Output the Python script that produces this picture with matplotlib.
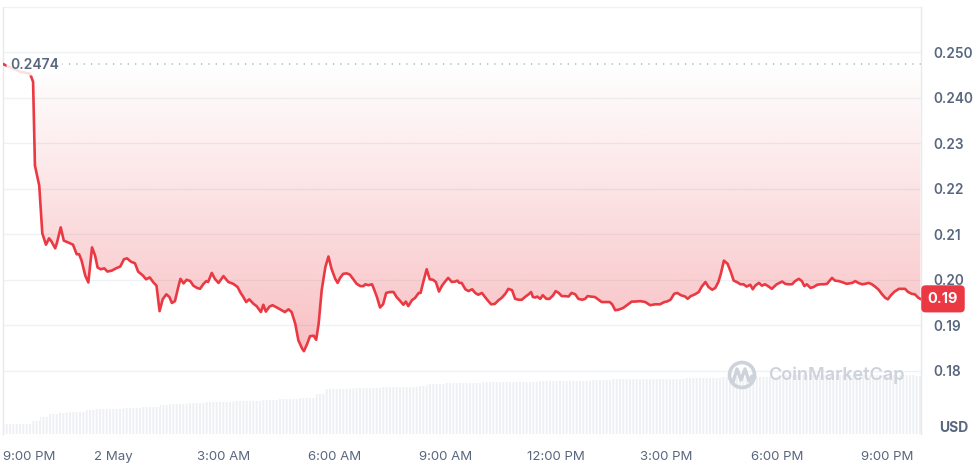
import numpy as np
import matplotlib
matplotlib.use("Agg")
import matplotlib.pyplot as plt
from matplotlib.patches import Circle

# minutes after 9:00 PM (1 May) and price in USD
minutes = [
    0, 28, 44, 49, 52, 59, 64, 70, 75, 79,
    85, 88, 94, 99, 106, 114, 120, 124, 128, 134,
    139, 145, 150, 154, 159, 165, 170, 177, 184, 191,
    197, 202, 208, 215, 220, 228, 233, 239, 245, 250,
    255, 260, 266, 271, 275, 280, 286, 289, 294, 299,
    305, 310, 316, 321, 326, 331, 334, 340, 345, 351,
    359, 367, 375, 382, 387, 391, 396, 401, 408, 413,
    420, 424, 428, 434, 439, 446, 454, 459, 465, 470,
    476, 481, 487, 490, 495, 500, 506, 510, 514, 519,
    525, 530, 535, 541, 545, 549, 554, 560, 565, 571,
    576, 582, 587, 590, 595, 601, 604, 609, 614, 619,
    624, 630, 636, 641, 647, 652, 656, 660, 666, 671,
    677, 680, 685, 690, 695, 700, 705, 710, 715, 720,
    725, 731, 736, 740, 743, 747, 753, 758, 764, 769,
    774, 780, 785, 791, 795, 801, 807, 812, 818, 823,
    829, 834, 840, 845, 850, 856, 860, 863, 867, 870,
    875, 879, 885, 890, 896, 900, 905, 910, 916, 921,
    926, 932, 937, 943, 948, 952, 957, 964, 970, 975,
    981, 988, 992, 997, 1002, 1010, 1016, 1024, 1029, 1038,
    1046, 1054, 1062, 1070, 1077, 1081, 1087, 1093, 1098, 1104,
    1111, 1115, 1120, 1127, 1133, 1138, 1144, 1149, 1155, 1160,
    1165, 1169, 1174, 1180, 1185, 1190, 1195, 1201, 1206, 1211,
    1217, 1221, 1225, 1231, 1236, 1241, 1247, 1252, 1260, 1269,
    1274, 1279, 1285, 1290, 1296, 1301, 1305, 1309, 1315, 1320,
    1326, 1331, 1336, 1342, 1350, 1355, 1361, 1366, 1374, 1383,
    1388, 1393, 1399, 1404, 1410, 1415, 1421, 1426, 1431, 1437,
    1441, 1446, 1452, 1459, 1464, 1469, 1474, 1480, 1485, 1491,
    1494,
]
prices = [
    0.2474, 0.2457, 0.2453, 0.2435, 0.2251, 0.2207, 0.2102, 0.2077, 0.2091, 0.2084,
    0.2069, 0.2082, 0.2115, 0.2086, 0.2082, 0.2077, 0.2056, 0.2056, 0.2042, 0.2009,
    0.1994, 0.2071, 0.2053, 0.2027, 0.2023, 0.2025, 0.2018, 0.2020, 0.2025, 0.2029,
    0.2045, 0.2047, 0.2040, 0.2036, 0.2018, 0.2009, 0.2001, 0.2005, 0.1994, 0.1987,
    0.1931, 0.1957, 0.1968, 0.1962, 0.1949, 0.1953, 0.1987, 0.2002, 0.1992, 0.2000,
    0.1997, 0.1987, 0.1982, 0.1980, 0.1990, 0.1997, 0.1995, 0.2015, 0.2002, 0.1993,
    0.2008, 0.1995, 0.1991, 0.1984, 0.1971, 0.1963, 0.1951, 0.1957, 0.1947, 0.1942,
    0.1929, 0.1945, 0.1930, 0.1941, 0.1944, 0.1939, 0.1933, 0.1929, 0.1935, 0.1929,
    0.1903, 0.1867, 0.1849, 0.1843, 0.1858, 0.1876, 0.1877, 0.1868, 0.1903, 0.1977,
    0.2028, 0.2051, 0.2024, 0.2002, 0.1993, 0.2004, 0.2013, 0.2014, 0.2011, 0.2000,
    0.1991, 0.1986, 0.1986, 0.1990, 0.1988, 0.1990, 0.1980, 0.1962, 0.1939, 0.1946,
    0.1971, 0.1973, 0.1973, 0.1962, 0.1953, 0.1945, 0.1952, 0.1942, 0.1955, 0.1960,
    0.1971, 0.1971, 0.1998, 0.2023, 0.2001, 0.2000, 0.1995, 0.1974, 0.1987, 0.1996,
    0.2004, 0.1995, 0.1996, 0.1998, 0.1993, 0.1993, 0.1979, 0.1975, 0.1979, 0.1971,
    0.1967, 0.1971, 0.1962, 0.1952, 0.1946, 0.1947, 0.1955, 0.1960, 0.1969, 0.1980,
    0.1977, 0.1958, 0.1956, 0.1956, 0.1962, 0.1968, 0.1973, 0.1962, 0.1961, 0.1963,
    0.1958, 0.1966, 0.1958, 0.1958, 0.1966, 0.1975, 0.1971, 0.1964, 0.1964, 0.1963,
    0.1971, 0.1968, 0.1958, 0.1956, 0.1958, 0.1964, 0.1963, 0.1962, 0.1956, 0.1951,
    0.1951, 0.1951, 0.1946, 0.1933, 0.1934, 0.1938, 0.1944, 0.1952, 0.1952, 0.1953,
    0.1951, 0.1944, 0.1946, 0.1946, 0.1951, 0.1952, 0.1956, 0.1969, 0.1971, 0.1966,
    0.1963, 0.1958, 0.1964, 0.1968, 0.1973, 0.1985, 0.1995, 0.1984, 0.1978, 0.1982,
    0.1995, 0.2013, 0.2042, 0.2035, 0.2018, 0.1998, 0.1995, 0.1990, 0.1990, 0.1985,
    0.1989, 0.1979, 0.1987, 0.1993, 0.1987, 0.1990, 0.1985, 0.1980, 0.1990, 0.1996,
    0.1991, 0.1990, 0.1990, 0.1997, 0.2002, 0.1997, 0.1986, 0.1990, 0.1982, 0.1984,
    0.1989, 0.1990, 0.1990, 0.1991, 0.2004, 0.1998, 0.1997, 0.1995, 0.1991, 0.1993,
    0.1997, 0.1993, 0.1990, 0.1991, 0.1993, 0.1990, 0.1984, 0.1978, 0.1969, 0.1960,
    0.1957, 0.1966, 0.1974, 0.1980, 0.1980, 0.1980, 0.1973, 0.1969, 0.1968, 0.1960,
    0.1958,
]

# 15-minute volume bars (arbitrary units)
volume = [
    0.97, 0.97, 0.97, 1.30, 1.67, 2.00, 2.13, 2.15, 2.20, 2.40,
    2.45, 2.50, 2.50, 2.63, 2.63, 2.65, 2.73, 2.90, 2.95, 3.00,
    3.13, 3.13, 3.15, 3.23, 3.23, 3.25, 3.33, 3.33, 3.35, 3.40,
    3.47, 3.47, 3.57, 3.57, 4.00, 4.47, 4.47, 4.50, 4.57, 4.57,
    4.60, 4.67, 4.67, 4.67, 4.70, 4.80, 4.97, 4.97, 5.07, 5.07,
    5.07, 5.10, 5.15, 5.20, 5.20, 5.20, 5.20, 5.23, 5.25, 5.33,
    5.33, 5.33, 5.33, 5.33, 5.35, 5.35, 5.47, 5.47, 5.47, 5.47,
    5.47, 5.47, 5.47, 5.50, 5.57, 5.57, 5.57, 5.57, 5.73, 5.73,
    5.73, 5.73, 5.73, 5.73, 5.85, 5.90, 5.90, 5.90, 5.90, 5.90,
    5.90, 5.90, 5.90, 5.90, 5.90, 5.90, 5.90, 5.90, 5.90, 5.83,
]
VOL_STEP = 15

xtick_minutes = [0, 180, 360, 540, 720, 900, 1080, 1260, 1440]
xtick_labels = ["9:00 PM", "2 May", "3:00 AM", "6:00 AM", "9:00 AM",
                "12:00 PM", "3:00 PM", "6:00 PM", "9:00 PM"]
ytick_values = [0.18, 0.19, 0.20, 0.21, 0.22, 0.23, 0.24, 0.25]
ytick_labels = ["0.18", "0.19", "0.20", "0.21", "0.22", "0.23", "0.240", "0.250"]
extra_grid = [0.26]

RED = "#ea3943"
GREY_TXT = "#58667e"
GRID = "#eff2f5"
WATERMARK = "#cdd2db"

plt.rcParams["font.family"] = ["Inter", "DejaVu Sans"]
plt.rcParams["hatch.linewidth"] = 1.0

W, H = 977, 463
fig = plt.figure(figsize=(W / 100, H / 100), dpi=100)
pos = [3 / W, 29 / H, 918 / W, 427.3 / H]
XMAX = 1495
YLIM = (0.1661, 0.2600)

# volume underneath
vax = fig.add_axes(pos)
vol_t = np.arange(len(volume)) * VOL_STEP
vax.bar(vol_t, volume, width=VOL_STEP, align="edge", color="#eef0f4",
        edgecolor="white", linewidth=0, hatch="|||||")
vax.set_ylim(0, 42.7)
vax.set_xlim(0, XMAX)
vax.axis("off")

ax = fig.add_axes(pos)
ax.patch.set_visible(False)
t = np.array(minutes, dtype=float)
p = np.array(prices)
base = p[0]

# gradient fill between the price and the opening price
poly = ax.fill_between(t, p, base, color="none", lw=0)
ny = 256
levels = np.linspace(YLIM[0], base, ny)
alpha = np.clip((base - levels) / (base - 0.184) * 0.32, 0, 0.34)
rgba = np.zeros((ny, 2, 4))
rgba[..., :3] = matplotlib.colors.to_rgb(RED)
rgba[..., 3] = alpha[:, None]
img = ax.imshow(rgba, extent=[0, XMAX, YLIM[0], base], origin="lower",
                aspect="auto", zorder=1, interpolation="bilinear")
img.set_clip_path(poly.get_paths()[0], transform=ax.transData)

# grid
for v in ytick_values + extra_grid:
    ax.axhline(v, color=GRID, lw=1, zorder=0)

ax.axhline(base, color="#a6afc0", lw=1.1, ls=(0, (0.8, 4)), zorder=2)
ax.plot(t, p, color=RED, lw=1.9, zorder=3, solid_joinstyle="round")

ax.annotate(f"{base:.4f}", xy=(t[0], base), xytext=(7, -1), textcoords="offset pixels",
            ha="left", va="center", fontsize=10, color=GREY_TXT, weight="semibold",
            zorder=5, bbox=dict(boxstyle="round,pad=0.25", fc="white", ec="none", alpha=0.85))

# price badge (the site truncates to two decimals)
last_label = f"{np.floor(p[-1] * 100) / 100:.2f}"
ax.annotate(last_label, xy=(1, p[-1]), xycoords=("axes fraction", "data"),
            xytext=(22, 0), textcoords="offset pixels", ha="center", va="center",
            fontsize=10.5, color="white", weight="bold", zorder=6, annotation_clip=False,
            bbox=dict(boxstyle="round,pad=0.45,rounding_size=0.3", fc=RED, ec="none"))

ax.set_xlim(0, XMAX)
ax.set_ylim(*YLIM)
ax.set_xticks(xtick_minutes)
ax.set_xticklabels(xtick_labels)
ax.get_xticklabels()[0].set_ha("left")
ax.yaxis.tick_right()
ax.set_yticks(ytick_values)
ax.set_yticklabels(ytick_labels)
ax.tick_params(axis="x", length=0, pad=12, labelsize=9.5, labelcolor=GREY_TXT)
ax.tick_params(axis="y", length=0, pad=9, labelsize=9.8, labelcolor=GREY_TXT)
for lab in ax.get_yticklabels():
    lab.set_fontweight("semibold")
for side in ("top", "bottom"):
    ax.spines[side].set_visible(False)
for side in ("left", "right"):
    ax.spines[side].set_color("#e6e9ee")
    ax.spines[side].set_linewidth(1)

fig.text(954 / W, 1 - 428 / H, "USD", ha="center", va="center", fontsize=10,
         weight="bold", color=GREY_TXT)

# watermark in pixel coordinates
oax = fig.add_axes([0, 0, 1, 1])
oax.set_xlim(0, W)
oax.set_ylim(H, 0)
oax.axis("off")
oax.add_patch(Circle((742, 375), 12.5, fill=False, lw=2.6, ec=WATERMARK))
oax.plot([733, 737, 741, 745, 749, 752, 755], [382, 369, 380, 369, 381, 376, 377],
         color=WATERMARK, lw=2.4, solid_joinstyle="round", solid_capstyle="round")
oax.text(768, 375, "CoinMarketCap", ha="left", va="center", fontsize=13,
         weight="semibold", color=WATERMARK)

fig.savefig("out.png", dpi=100)
